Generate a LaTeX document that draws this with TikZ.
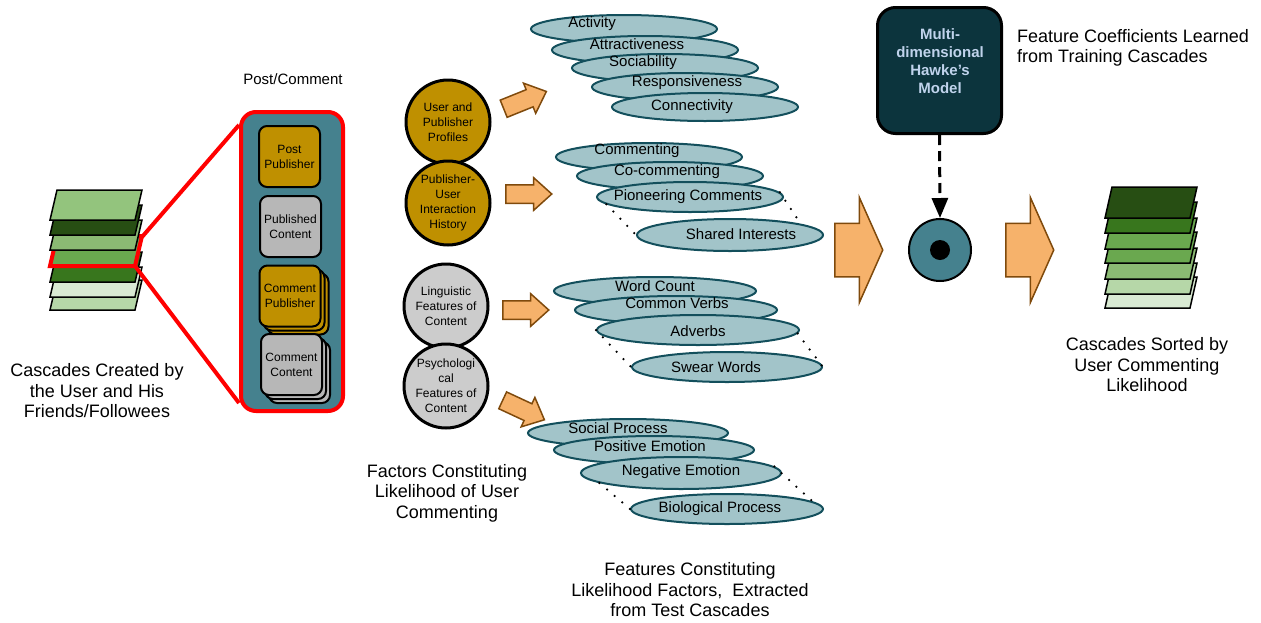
\documentclass[tikz,border=0pt]{standalone}
\usepackage{fontspec}
\setmainfont{Liberation Sans}
\usetikzlibrary{shapes.geometric, shapes.arrows, shadows, arrows.meta, positioning}

\definecolor{tealbox}{HTML}{45818E}
\definecolor{goldfill}{HTML}{BF9000}
\definecolor{graybox}{HTML}{B7B7B7}
\definecolor{graycirc}{HTML}{CCCCCC}
\definecolor{featfill}{HTML}{A2C4C9}
\definecolor{featline}{HTML}{134F5C}
\definecolor{arrfill}{HTML}{F6B26B}
\definecolor{arrline}{HTML}{7F4A0C}
\definecolor{modelfill}{HTML}{0C343D}
\definecolor{modeltext}{HTML}{C0D3EC}
\definecolor{gA}{HTML}{274E13}
\definecolor{gB}{HTML}{38761D}
\definecolor{gC}{HTML}{6AA84F}
\definecolor{gM}{HTML}{8BBA73}
\definecolor{gD}{HTML}{93C47D}
\definecolor{gE}{HTML}{B6D7A8}
\definecolor{gF}{HTML}{D9EAD3}

\tikzset{
  postbox/.style = {rectangle, rounded corners=15pt, draw=red, line width=4pt,
    fill=tealbox, minimum width=102pt, minimum height=299pt},
  item/.style = {rectangle, rounded corners=8pt, draw=black, line width=2pt,
    minimum width=61pt, minimum height=61pt, inner sep=1pt, align=center,
    font=\fontsize{12}{15}\selectfont},
  factor/.style = {circle, draw=black, line width=3pt, minimum size=84pt,
    inner sep=0pt, align=center, font=\fontsize{12}{15}\selectfont},
  feature/.style = {ellipse, draw=featline, line width=2pt, fill=featfill,
    minimum width=186pt, minimum height=28pt, inner sep=0pt},
  ftext/.style = {inner sep=0pt, font=\fontsize{15}{18}\selectfont},
  dotline/.style = {line width=2.5pt, line cap=round, dash pattern=on 0pt off 10pt},
  smallarrow/.style = {single arrow, draw=arrline, fill=arrfill, line width=1.5pt,
    anchor=tail, inner xsep=0pt, inner ysep=8.5pt, minimum height=46pt,
    single arrow head extend=7pt, single arrow tip angle=84},
  bigarrow/.style = {smallarrow, inner ysep=26pt, minimum height=48pt,
    single arrow head extend=26pt, single arrow tip angle=132},
  caption/.style = {inner sep=0pt, align=center, font=\fontsize{18}{20.5}\selectfont},
  redline/.style = {draw=red, line width=4pt},
}

\begin{document}
\begin{tikzpicture}[x=1pt, y=-1pt]
  \useasboundingbox (0,0) rectangle (1261,622);

  % cascades of the user, one of them picked out
  \foreach \yb/\col/\dc/\lw in {310/gE/black/1.5pt, 297/gF/black/1.5pt,
      282/gB/black/1.5pt, 266/gC/red/4pt, 250/gM/black/1.5pt,
      235/gA/black/1.5pt, 220/gD/black/1.5pt}
    \draw[draw=\dc, line width=\lw, fill=\col]
      (50,\yb) -- (135,\yb) -- (142,\yb-30) -- (57,\yb-30) -- cycle;
  \coordinate (hlTop) at (142,237);
  \coordinate (hlBot) at (135,266);
  \node[caption] (cascT) at (97,391) {Cascades Created by\\the User and His\\Friends/Followees};

  % post/comment
  \node[postbox] (post) at (292,261.5) {};
  \draw[redline] (hlTop) -- ([yshift=-15pt]post.north west);
  \draw[redline] (hlBot) -- ([yshift=10pt]post.south west);
  \node[inner sep=0pt, font=\fontsize{15}{18}\selectfont] (postT) at (293,79) {Post/Comment};
  \node[item, fill=goldfill] (pubP) at (289.5,156.5) {Post\\Publisher};
  \node[item, fill=graybox] (pubC) at (290.5,226.5) {Published\\Content};
  \node[item, fill=goldfill, double copy shadow={shadow xshift=4pt, shadow yshift=-4pt,
    fill=goldfill, draw=black, line width=2pt}] (comP) at (290,296) {Comment\\Publisher};
  \node[item, fill=graybox, double copy shadow={shadow xshift=4pt, shadow yshift=-4pt,
    fill=graybox, draw=black, line width=2pt}] (comC) at (291.5,364.5) {Comment\\Content};

  % likelihood factors
  \node[factor, fill=goldfill] (prof) at (448,122) {User and\\Publisher\\Profiles};
  \node[factor, fill=goldfill] (hist) at (448,203) {Publisher-\\User\\Interaction\\History};
  \node[factor, fill=graycirc] (ling) at (446,306) {Linguistic\\Features of\\Content};
  \node[factor, fill=graycirc] (psych) at (446,386) {Psychologi\\cal\\Features of\\Content};
  \node[caption] (factT) at (447,493) {Factors Constituting\\Likelihood of User\\Commenting};

  \node[smallarrow, rotate=22] (ar1) at (503,109) {};
  \node[smallarrow] (ar2) at (505,194) {};
  \node[smallarrow] (ar3) at (502,310) {};
  \node[smallarrow, rotate=-25] (ar4) at (502,400) {};

  % features
  \node[feature] (act) at (624,29) {};
  \node[ftext] (actT) at (592,24) {Activity};
  \node[feature] (attr) at (645,50) {};
  \node[ftext] (attrT) at (637,44) {Attractiveness};
  \node[feature] (soc) at (665,68) {};
  \node[ftext] (socT) at (643,63) {Sociability};
  \node[feature] (resp) at (685,87) {};
  \node[ftext] (respT) at (687,83) {Responsiveness};
  \node[feature] (conn) at (705,107) {};
  \node[ftext] (connT) at (692,107) {Connectivity};

  \node[feature] (cmt) at (649,157) {};
  \node[ftext] (cmtT) at (637,151) {Commenting};
  \node[feature] (cocmt) at (670,176) {};
  \node[ftext] (cocmtT) at (667,172) {Co-commenting};
  \node[feature, minimum height=30pt] (pion) at (690,197) {};
  \node[ftext] (pionT) at (688,197) {Pioneering Comments};
  \node[feature, minimum height=32pt] (share) at (730,235) {};
  \node[ftext] (shareT) at (741,234) {Shared Interests};
  \draw[dotline] (pion.185) -- (share.west);
  \draw[dotline] (pion.3) -- (share.9);

  \node[feature, minimum width=202pt] (wc) at (655,291) {};
  \node[ftext] (wcT) at (655,286) {Word Count};
  \node[feature, minimum width=202pt] (verb) at (676,310) {};
  \node[ftext] (verbT) at (677,303) {Common Verbs};
  \node[feature, minimum width=202pt, minimum height=30pt] (adv) at (698,330) {};
  \node[ftext] (advT) at (698,331) {Adverbs};
  \node[feature, minimum width=190pt, minimum height=30pt] (swear) at (727,367) {};
  \node[ftext] (swearT) at (716,367) {Swear Words};
  \draw[dotline] (adv.west) -- (swear.west);
  \draw[dotline] (adv.-2) -- (swear.east);

  \node[feature, minimum width=200pt] (socp) at (628,433) {};
  \node[ftext] (socpT) at (618,428) {Social Process};
  \node[feature, minimum width=200pt] (pos) at (654,450) {};
  \node[ftext] (posT) at (650,446) {Positive Emotion};
  \node[feature, minimum width=200pt, minimum height=32pt] (neg) at (681,473) {};
  \node[ftext] (negT) at (681,472) {Negative Emotion};
  \node[feature, minimum width=192pt, minimum height=30pt] (bio) at (727,509) {};
  \node[ftext] (bioT) at (720,509) {Biological Process};
  \draw[dotline] (neg.187) -- (bio.west);
  \draw[dotline] (neg.4) -- (bio.5);

  \node[caption] (featT) at (690,590) {Features Constituting\\Likelihood Factors,\ \ Extracted\\from Test Cascades};

  % model and combination
  \node[bigarrow] (ar5) at (834,250) {};
  \node[rectangle, rounded corners=18pt, draw=black, line width=3pt, fill=modelfill,
    minimum width=124pt, minimum height=126pt] (hawkes) at (939.5,70.5) {};
  \node[inner sep=0pt, align=center, text=modeltext,
    font=\bfseries\fontsize{15}{18}\selectfont] (hawkesT) at (940,61.5) {Multi-\\dimensional\\Hawke’s\\Model};
  \node[caption, align=left, anchor=west] (coefT) at (1017,48) {Feature Coefficients Learned\\from Training Cascades};
  \node[circle, draw=black, line width=2pt, fill=tealbox, minimum size=62pt] (comb) at (940,250) {};
  \node[circle, fill=black, minimum size=20pt, inner sep=0pt] (combDot) at (comb.center) {};
  \draw[line width=3pt, dash pattern=on 10pt off 6pt, -{Triangle[length=20pt, width=16pt]}]
    (hawkes.south) -- (comb.north);
  \node[bigarrow] (ar6) at (1005,250) {};

  % sorted cascades
  \foreach \yb/\col in {308/gF, 294/gE, 279/gM, 263/gC, 249/gC, 233/gB, 218/gA}
    \draw[line width=1.5pt, fill=\col]
      (1105,\yb) -- (1190,\yb) -- (1197,\yb-31) -- (1112,\yb-31) -- cycle;
  \node[caption] (sortT) at (1147,365) {Cascades Sorted by\\User Commenting\\Likelihood};
\end{tikzpicture}
\end{document}
